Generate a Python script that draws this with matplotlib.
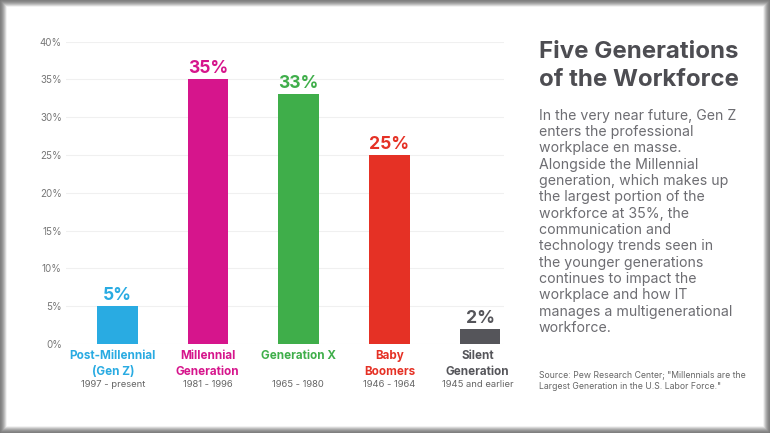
import matplotlib
matplotlib.use('Agg')
from matplotlib import pyplot as plt
from matplotlib.patches import Rectangle

plt.rcParams['font.family'] = ['Inter', 'DejaVu Sans']

W, H = 770, 433

generations = ['Post-Millennial\n(Gen Z)', 'Millennial\nGeneration', 'Generation X', 'Baby\nBoomers', 'Silent\nGeneration']
years = ['1997 - present', '1981 - 1996', '1965 - 1980', '1946 - 1964', '1945 and earlier']
shares = [5, 35, 33, 25, 2]
colors = ['#29abe2', '#d6158c', '#3fae4a', '#e53125', '#55555a']
y_ticks = [0, 5, 10, 15, 20, 25, 30, 35, 40]

title = 'Five Generations\nof the Workforce'
body = ['In the very near future, Gen Z', 'enters the professional', 'workplace en masse.',
        'Alongside the Millennial', 'generation, which makes up', 'the largest portion of the',
        'workforce at 35%, the', 'communication and', 'technology trends seen in',
        'the younger generations', 'continues to impact the', 'workplace and how IT',
        'manages a multigenerational', 'workforce.']
source = 'Source: Pew Research Center; "Millennials are the\nLargest Generation in the U.S. Labor Force."'

fig = plt.figure(figsize=(W / 100, H / 100), dpi=100)
fig.patch.set_facecolor('white')

# chart area in pixels: left 66, right 504, baseline 344, top 41.5
ax = fig.add_axes([66 / W, 1 - 344 / H, (504 - 66) / W, (344 - 41.5) / H])
x = list(range(len(shares)))
ax.bar(x, shares, width=0.45, color=colors, zorder=3)
ax.set_xlim(-0.566, 4.264)
ax.set_ylim(0, 40)
ax.set_yticks(y_ticks)
ax.set_yticklabels([f'{t}%' for t in y_ticks], fontsize=7, color='#777777')
ax.tick_params(axis='y', length=0, pad=3)
ax.set_xticks([])
ax.grid(axis='y', color='#f0f0f0', linewidth=0.8, zorder=0)
ax.set_axisbelow(True)
ax.patch.set_alpha(0)
for s in ax.spines.values():
    s.set_visible(False)

# labels under the bars sit a little left of the bar centres
nudge = [-3.2, -0.4, -0.4, 0, -1.8]

for i, v in enumerate(shares):
    ax.text(i, v + 0.3, f'{v}%', ha='center', va='bottom', fontsize=12.6, fontweight='bold', color=colors[i])
    ax.annotate(generations[i], (i, 0), xytext=(nudge[i], -4.5), textcoords='offset points', ha='center', va='top',
                fontsize=8.4, fontweight='bold', color=colors[i], linespacing=1.42, annotation_clip=False)
    ax.annotate(years[i], (i, 0), xytext=(nudge[i], -26), textcoords='offset points', ha='center', va='top',
                fontsize=6.8, color='#666666', annotation_clip=False)

fig.text(539 / W, 1 - 66 / H, title, fontsize=17.3, fontweight='bold', color='#4d4d52', va='center', ha='left', linespacing=1.3)
for n, line in enumerate(body):
    fig.text(539 / W, 1 - (115.5 + n * 16.35) / H, line, fontsize=10.2, color='#6d6d72', va='center', ha='left')
fig.text(539 / W, 1 - 381 / H, source, fontsize=6.25, color='#666666', va='center', ha='left', linespacing=1.35)

# soft grey frame round the slide
for k in range(7):
    fig.patches.append(Rectangle((k / W, k / H), 1 - 2 * k / W, 1 - 2 * k / H, transform=fig.transFigure,
                                 fill=False, edgecolor='#777777', linewidth=1.2, alpha=0.95 - k * 0.14))

fig.savefig('out.png', dpi=100)
